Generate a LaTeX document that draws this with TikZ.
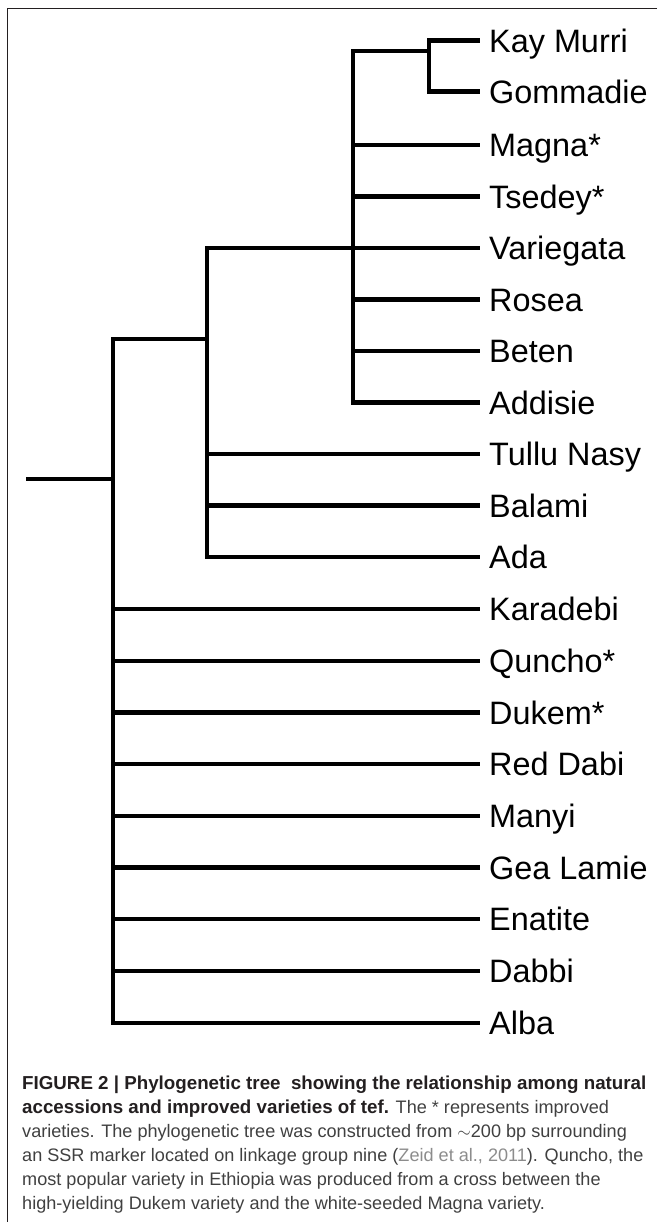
\documentclass[tikz,border=0pt]{standalone}
\usepackage{fontspec}
\setmainfont{Liberation Sans}
\definecolor{framecol}{HTML}{231F20}
\definecolor{captext}{HTML}{404040}
\definecolor{capbold}{HTML}{231F20}
\definecolor{linkcol}{HTML}{8C8C8C}
\newcommand{\capbf}[1]{\textcolor{capbold}{\fontsize{18.75}{24}\selectfont\bfseries #1}}
\begin{document}
\begin{tikzpicture}[x=1pt,y=-1pt,
  branch/.style={line width=4.8pt, line join=miter, line cap=butt, black},
  leaf/.style={anchor=west, inner xsep=9pt, inner ysep=0pt, text height=23.2pt, text depth=0pt, font=\fontsize{32.4}{38}\selectfont},
  capline/.style={anchor=base west, inner sep=0pt, font=\fontsize{18.1}{24}\selectfont, text=captext},
  frameline/.style={line width=1.7pt, framecol, line cap=butt, line join=miter}]
\useasboundingbox (0,0) rectangle (657,1228);
% frame
\draw[frameline] (657,8.5) -- (7.5,8.5) -- (7.5,1222);
% leaves
\node[leaf] (kay) at (480,40.7) {Kay Murri};
\node[leaf] (gom) at (480,91.7) {Gommadie};
\node[leaf] (mag) at (480,145) {Magna*};
\node[leaf] (tse) at (480,196.5) {Tsedey*};
\node[leaf] (var) at (480,248) {Variegata};
\node[leaf] (ros) at (480,299.5) {Rosea};
\node[leaf] (bet) at (480,351) {Beten};
\node[leaf] (add) at (480,402.5) {Addisie};
\node[leaf] (tul) at (480,454) {Tullu Nasy};
\node[leaf] (bal) at (480,505.7) {Balami};
\node[leaf] (ada) at (480,557) {Ada};
\node[leaf] (kar) at (480,609) {Karadebi};
\node[leaf] (qun) at (480,661) {Quncho*};
\node[leaf] (duk) at (480,712.5) {Dukem*};
\node[leaf] (red) at (480,764) {Red Dabi};
\node[leaf] (man) at (480,816) {Manyi};
\node[leaf] (gea) at (480,867.5) {Gea Lamie};
\node[leaf] (ena) at (480,919) {Enatite};
\node[leaf] (dab) at (480,971) {Dabbi};
\node[leaf] (alb) at (480,1023) {Alba};
% internal junctions
\coordinate (r) at (26,479);
\coordinate (A) at (113,479);
\coordinate (B) at (207,339);
\coordinate (C) at (353,248);
\coordinate (D) at (429,51);
% branches
\draw[branch] (r) -- (A);
\draw[branch] (A) |- (B);
\foreach \n in {kar,qun,duk,red,man,gea,ena,dab,alb} \draw[branch] (A) |- (\n.west);
\draw[branch] (B) |- (C);
\foreach \n in {tul,bal,ada} \draw[branch] (B) |- (\n.west);
\draw[branch] (C) |- (D);
\foreach \n in {mag,tse,var,ros,bet,add} \draw[branch] (C) |- (\n.west);
\foreach \n in {kay,gom} \draw[branch] (D) |- (\n.west);
% caption
\node[capline] (c1) at (22,1089) {\capbf{FIGURE 2 | Phylogenetic tree\ \ showing the relationship among natural}};
\node[capline] (c2) at (22,1113) {\capbf{accessions and improved varieties of tef.} The * represents improved};
\node[capline] (c3) at (22,1137) {varieties. The phylogenetic tree was constructed from $\sim$200 bp surrounding};
\node[capline] (c4) at (22,1161) {an SSR marker located on linkage group nine (\textcolor{linkcol}{Zeid et al., 2011}). Quncho, the};
\node[capline] (c5) at (22,1185) {most popular variety in Ethiopia was produced from a cross between the};
\node[capline] (c6) at (22,1209) {high-yielding Dukem variety and the white-seeded Magna variety.};
\end{tikzpicture}
\end{document}
